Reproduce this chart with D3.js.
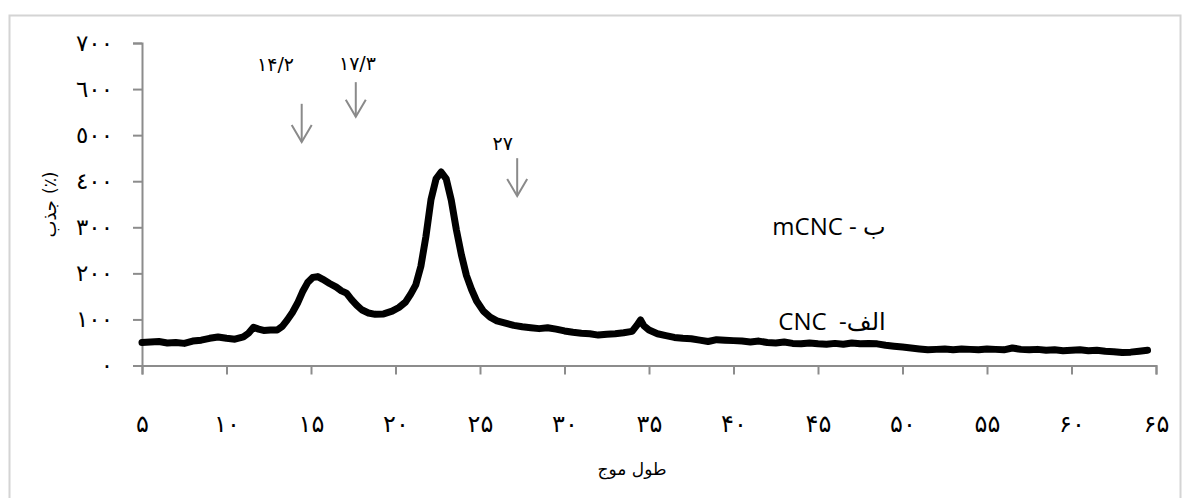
<!DOCTYPE html>
<html>
<head>
<meta charset="utf-8">
<script src="https://cdn.jsdelivr.net/npm/d3@7/dist/d3.min.js"></script>
<style>
	body { margin: 0; background: #fff; }
	svg { display: block; }
	text { font-family: "DejaVu Sans", sans-serif; }
</style>
</head>
<body>
<svg width="1186" height="498"></svg>
<script>
// XRD pattern of CNC / mCNC

// two-theta values (x) and intensity (y)
var twoTheta = [
	5.0, 5.5, 6.0, 6.5, 7.0, 7.5, 8.0, 8.5, 9.0, 9.5, 10.0, 10.5, 11.0, 11.3, 11.6, 11.9,
	12.2, 12.6, 13.0, 13.3, 13.6, 13.9, 14.2, 14.5, 14.8, 15.1, 15.4, 15.7, 16.1, 16.5, 16.8,
	17.1, 17.4, 17.7, 18.0, 18.4, 18.8, 19.3, 19.8, 20.2, 20.6, 20.9, 21.2, 21.5, 21.8, 22.1,
	22.4, 22.7, 23.0, 23.3, 23.6, 23.9, 24.2, 24.5, 24.8, 25.2, 25.6, 26.0, 26.5, 27.0, 27.5,
	28.0, 28.5, 29.0, 29.5, 30.0, 30.5, 31.0, 31.5, 32.0, 32.5, 33.0, 33.5, 34.0, 34.3, 34.5,
	34.7, 35.0, 35.5, 36.0, 36.5, 37.0, 37.5, 38.0, 38.5, 39.0, 39.5, 40.0, 40.5, 41.0, 41.5,
	42.0, 42.5, 43.0, 43.5, 44.0, 44.5, 45.0, 45.5, 46.0, 46.5, 47.0, 47.5, 48.0, 48.5, 49.0,
	49.5, 50.0, 50.5, 51.0, 51.5, 52.0, 52.5, 53.0, 53.5, 54.0, 54.5, 55.0, 55.5, 56.0, 56.5,
	57.0, 57.5, 58.0, 58.5, 59.0, 59.5, 60.0, 60.5, 61.0, 61.5, 62.0, 62.5, 63.0, 63.5, 64.0, 64.5
]
var intensity = [
	50, 51, 52, 49, 50, 48, 53, 55, 59, 62, 59, 57, 62, 70, 83, 79,
	76, 77, 77, 85, 99, 115, 135, 160, 180, 191, 193, 187, 178, 170, 162,
	157, 143, 131, 121, 114, 111, 112, 118, 126, 138, 155, 175, 215, 280, 360,
	405, 420, 405, 359, 295, 240, 195, 165, 140, 118, 105, 97, 92, 87, 84,
	82, 80, 82, 79, 75, 72, 70, 69, 66, 68, 69, 71, 74, 88, 99,
	86, 77, 69, 65, 61, 59, 58, 55, 52, 56, 55, 54, 53, 51, 53,
	50, 49, 51, 48, 47, 49, 47, 46, 48, 46, 49, 47, 48, 47, 44,
	42, 40, 38, 36, 34, 35, 36, 34, 36, 35, 34, 36, 35, 34, 38,
	35, 34, 35, 33, 34, 32, 33, 34, 32, 33, 31, 30, 28, 29, 31, 33
]

var xTicks = [5, 10, 15, 20, 25, 30, 35, 40, 45, 50, 55, 60, 65]
var xTickLabels = ['۵', '۱۰', '۱۵', '۲۰', '۲۵', '۳۰', '۳۵', '۴۰', '۴۵', '۵۰', '۵۵', '۶۰', '۶۵']
var yTicks = [0, 100, 200, 300, 400, 500, 600, 700]
var yTickLabels = ['٠', '١٠٠', '٢٠٠', '٣٠٠', '٤٠٠', '٥٠٠', '٦٠٠', '٧٠٠']

// peak markers: label, arrow x, arrow top, arrow tip, label x, label y
var peakLabels = ['۱۴/۲', '۱۷/۳', '۲۷']
var peakArrowX = [14.45, 17.65, 27.2]
var peakArrowTop = [568, 615, 450]
var peakArrowTip = [485, 540, 368]
var peakLabelX = [12.9, 17.75, 26.35]
var peakLabelY = [640, 642, 468]

// sample labels
var sampleNames = ['mCNC - ب', 'CNC  -الف']
var sampleX = [42.3, 42.65]
var sampleY = [283, 77]

var xTitle = 'طول موج'

var svg = d3.select('svg')

var x = d3.scaleLinear().domain([5, 65]).range([142, 1156])
var y = d3.scaleLinear().domain([0, 700]).range([365.5, 43])

// outer frame
svg.append('rect')
	.attr('x', 9.5).attr('y', 15.5)
	.attr('width', 1171).attr('height', 500)
	.attr('fill', 'none')
	.attr('stroke', '#d4d4d4')
	.attr('stroke-width', 2)

var axisColor = '#8c8c8c'

// x axis
var xAxis = svg.append('g')
	.attr('transform', 'translate(0,' + y(0) + ')')
	.call(d3.axisBottom(x).tickValues(xTicks).tickSize(9).tickFormat(function(d, i) { return xTickLabels[i] }))
xAxis.select('.domain').attr('stroke', axisColor).attr('stroke-width', 2)
xAxis.selectAll('.tick line').attr('stroke', axisColor).attr('stroke-width', 2)
xAxis.selectAll('.tick text')
	.attr('y', 49)
	.attr('fill', '#000')
	.style('font-size', '24px')

// y axis
var yAxis = svg.append('g')
	.attr('transform', 'translate(' + x(5) + ',0)')
	.call(d3.axisLeft(y).tickValues(yTicks).tickSize(9).tickFormat(function(d, i) { return yTickLabels[i] }))
yAxis.select('.domain').attr('stroke', axisColor).attr('stroke-width', 2)
yAxis.selectAll('.tick text')
	.attr('x', -29)
	.attr('fill', '#000')
	.style('font-size', '23px')
yAxis.selectAll('.tick line').attr('stroke', axisColor).attr('stroke-width', 2)

// axis titles
svg.append('text')
	.attr('x', 632).attr('y', 475)
	.attr('text-anchor', 'middle')
	.style('font-size', '17px')
	.text(xTitle)

var yt = svg.append('g').attr('transform', 'translate(56,197) rotate(-90)')
yt.append('text')
	.attr('x', -3).attr('y', 0)
	.attr('text-anchor', 'end')
	.attr('fill', '#000')
	.style('font-size', '18px')
	.text('جذب')
yt.append('text')
	.attr('x', 3).attr('y', 0)
	.attr('text-anchor', 'start')
	.style('font-size', '17px')
	.text('(٪)')

// pattern line
var line = d3.line()
	.x(function(d) { return x(d[0]) })
	.y(function(d) { return y(d[1]) })

svg.append('path')
	.datum(d3.zip(twoTheta, intensity))
	.attr('d', line)
	.attr('fill', 'none')
	.attr('stroke', '#000')
	.attr('stroke-width', 7)
	.attr('stroke-linejoin', 'round')
	.attr('stroke-linecap', 'round')

// peak arrows
var arrowColor = '#8a8a8a'
peakLabels.forEach(function(lbl, i) {
	var ax = x(peakArrowX[i])
	var top = y(peakArrowTop[i])
	var tip = y(peakArrowTip[i])
	svg.append('line')
		.attr('x1', ax).attr('x2', ax)
		.attr('y1', top).attr('y2', tip)
		.attr('stroke', arrowColor).attr('stroke-width', 2)
	svg.append('path')
		.attr('d', 'M' + (ax - 10) + ',' + (tip - 17) + 'L' + ax + ',' + tip + 'L' + (ax + 10) + ',' + (tip - 17))
		.attr('fill', 'none')
		.attr('stroke', arrowColor).attr('stroke-width', 2)
	svg.append('text')
		.attr('x', x(peakLabelX[i])).attr('y', y(peakLabelY[i]))
		.attr('text-anchor', 'middle')
		.style('font-size', '19px')
		.text(lbl)
})

// sample names
sampleNames.forEach(function(name, i) {
	svg.append('text')
		.attr('x', x(sampleX[i])).attr('y', y(sampleY[i]))
		.style('font-family', '"Open Sans", "DejaVu Sans", sans-serif')
		.style('font-size', '24px')
		.style('white-space', 'pre')
		.text(name)
})
</script>
</body>
</html>
